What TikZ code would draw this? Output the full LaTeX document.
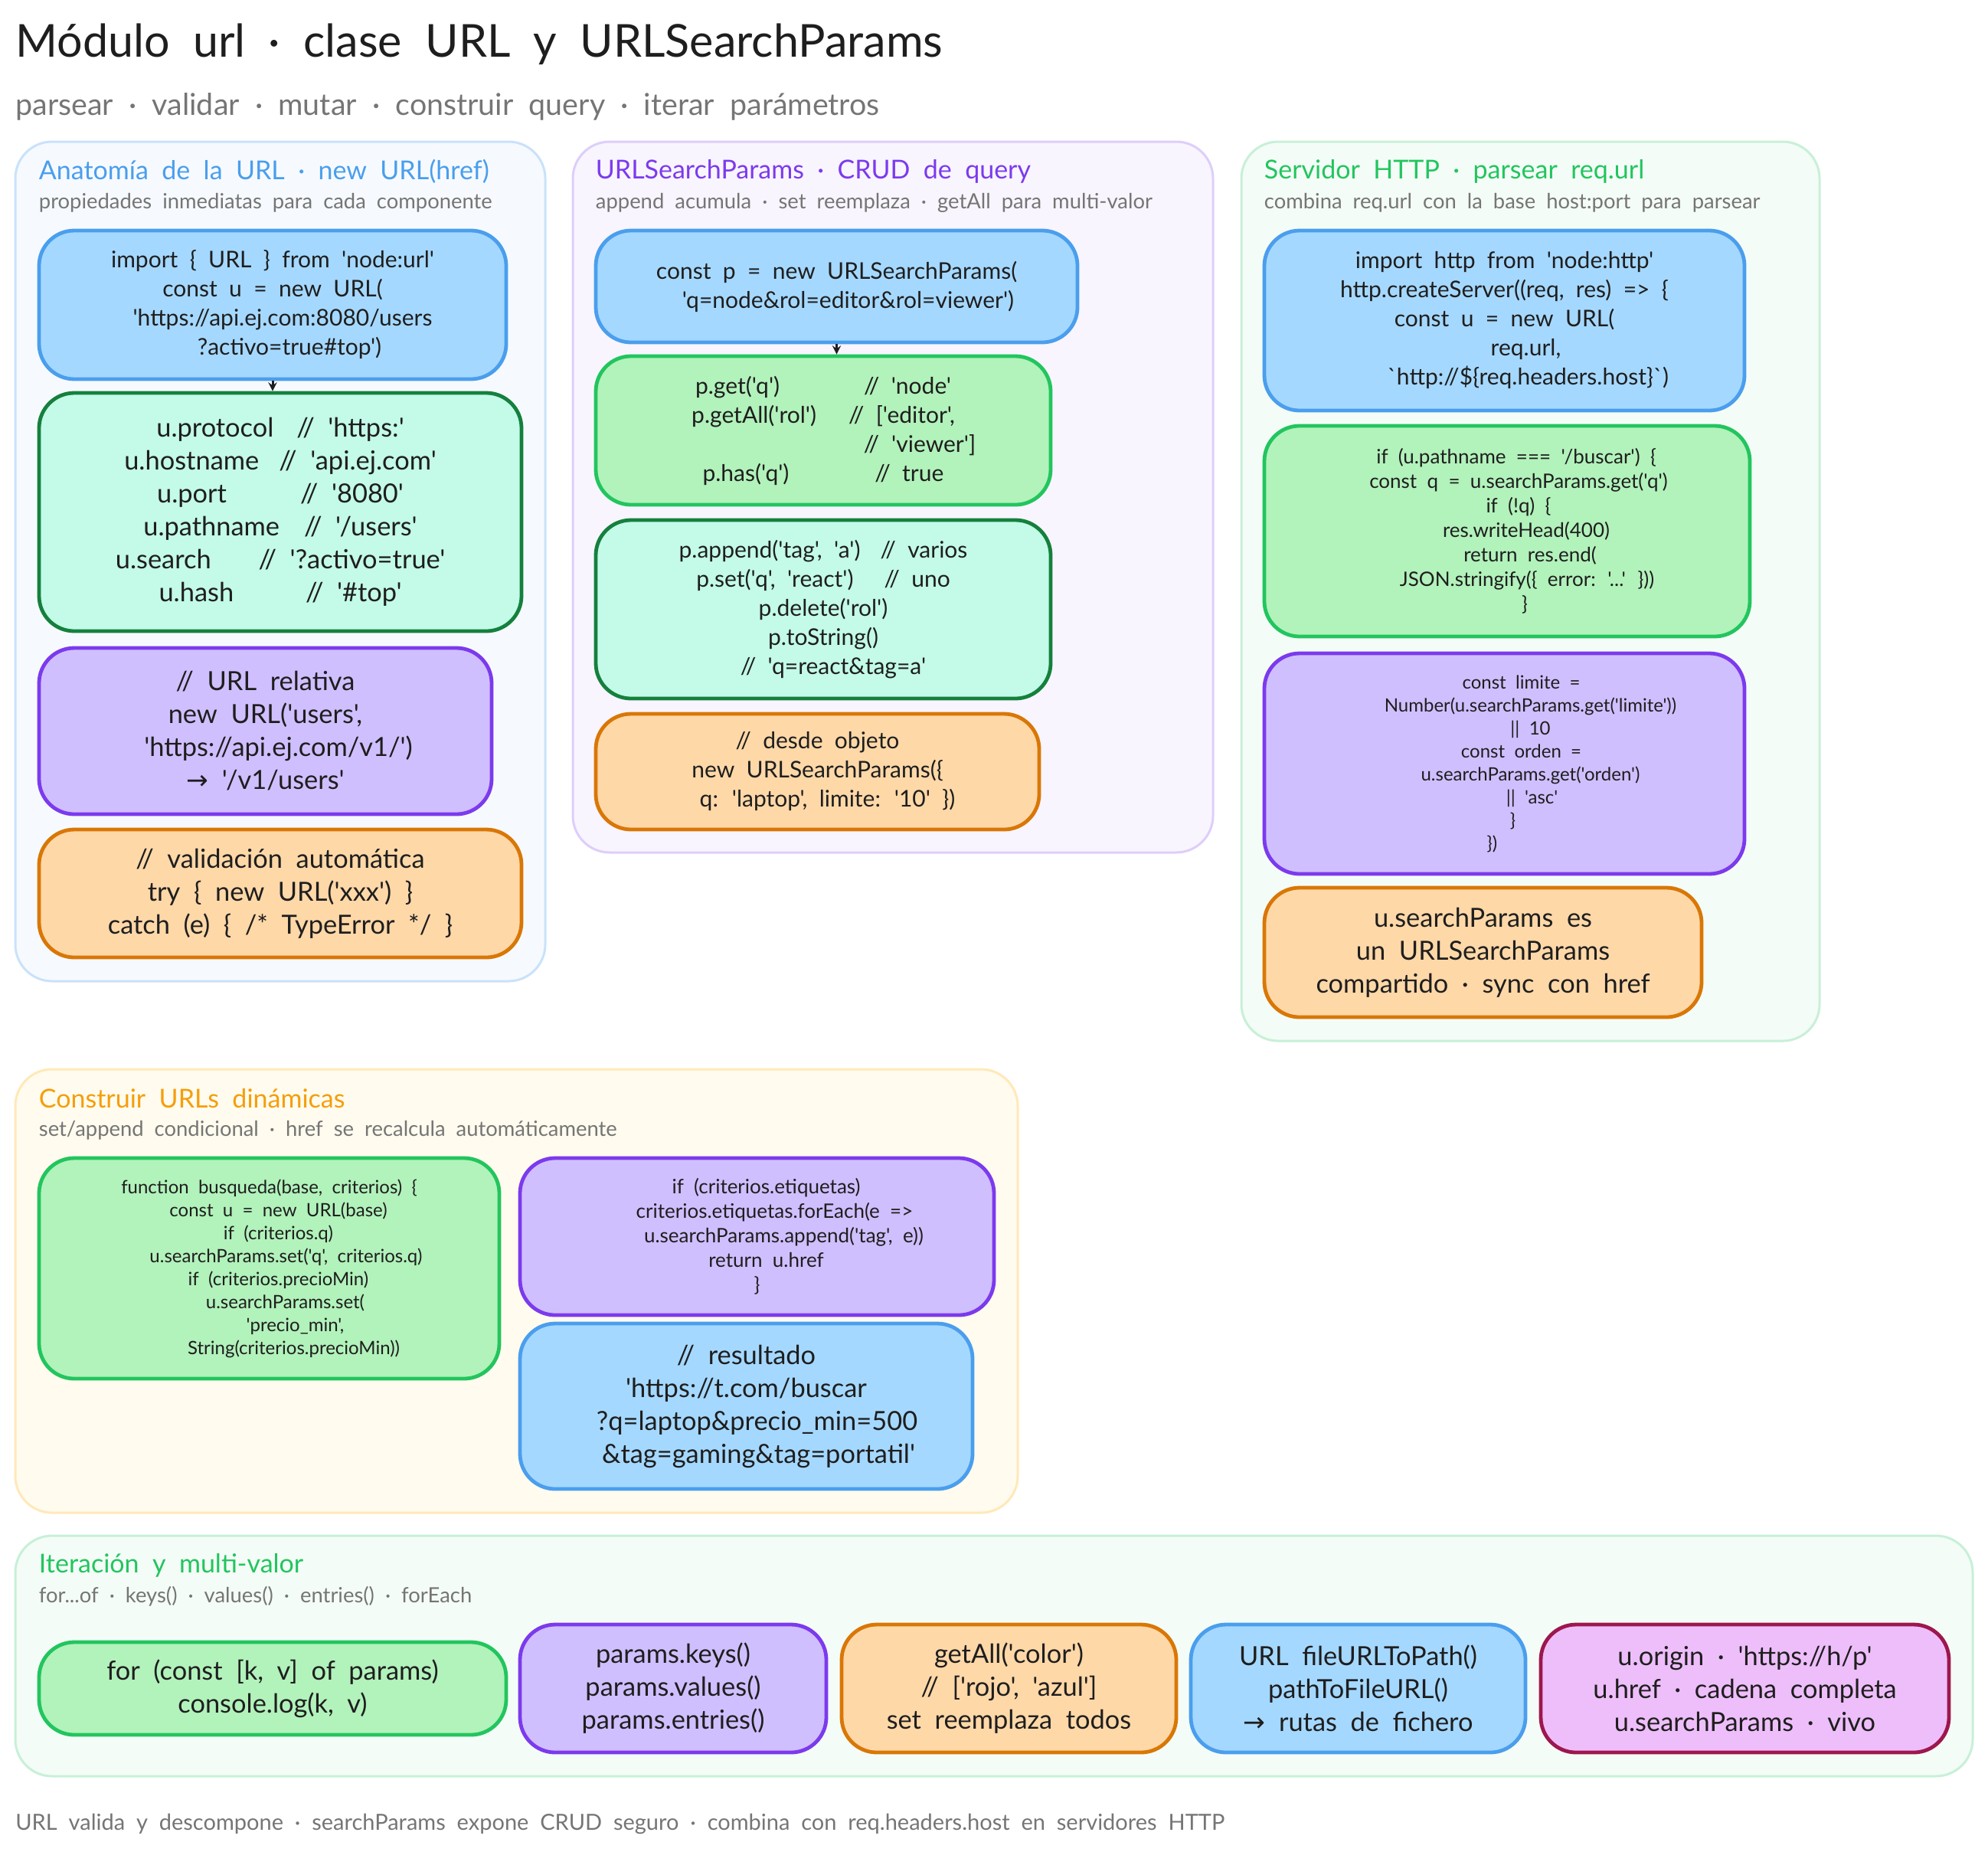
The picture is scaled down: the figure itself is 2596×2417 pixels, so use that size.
\documentclass[tikz,border=0pt]{standalone}
\usepackage{fontspec}
\usetikzlibrary{calc}
\newfontfamily\handf[WordSpace=2]{Lato}
\newfontfamily\symf{DejaVu Sans}
\newcommand{\gap}[1]{\hspace*{#1pt}}
\definecolor{inkc}{HTML}{1E1E1E}
\definecolor{subc}{HTML}{757575}
\definecolor{blued}{HTML}{4A9EED}
\definecolor{bluef}{HTML}{A5D8FF}
\definecolor{greend}{HTML}{22C55E}
\definecolor{greenf}{HTML}{B2F2BB}
\definecolor{teald}{HTML}{15803D}
\definecolor{tealf}{HTML}{C3FAE8}
\definecolor{purpled}{HTML}{7C3AED}
\definecolor{purplef}{HTML}{D0BFFF}
\definecolor{oranged}{HTML}{D97706}
\definecolor{orangef}{HTML}{FFD8A8}
\definecolor{pinkd}{HTML}{9D174D}
\definecolor{pinkf}{HTML}{EEBEFA}
\definecolor{amberc}{HTML}{F59E0B}
\definecolor{amberf}{HTML}{FFFBEE}
\definecolor{ambere}{HTML}{FFE9B8}
\tikzset{
  >=stealth,
  panel/.style={draw,rectangle,rounded corners=24pt,line width=1.5pt,inner sep=0pt},
  panelblue/.style={panel,draw=blued!30,fill=blued!5},
  panelpurple/.style={panel,draw=purpled!25,fill=purpled!5},
  panelgreen/.style={panel,draw=greend!25,fill=greend!5},
  panelamber/.style={panel,draw=ambere,fill=amberf},
  codebox/.style={draw,rectangle,rounded corners=23pt,line width=2.4pt,inner sep=0pt,align=center,text=inkc},
  bluebox/.style={codebox,draw=blued,fill=bluef},
  greenbox/.style={codebox,draw=greend,fill=greenf},
  tealbox/.style={codebox,draw=teald,fill=tealf},
  purplebox/.style={codebox,draw=purpled,fill=purplef},
  orangebox/.style={codebox,draw=oranged,fill=orangef},
  pinkbox/.style={codebox,draw=pinkd,fill=pinkf},
  fsa/.style={font=\handf\fontsize{12}{15}\selectfont},
  fsb/.style={font=\handf\fontsize{13}{16}\selectfont},
  fsc/.style={font=\handf\fontsize{15}{19}\selectfont},
  fsd/.style={font=\handf\fontsize{17.2}{21.5}\selectfont},
  titletxt/.style={anchor=west,inner sep=0pt,text=inkc,font=\handf\fontsize{29.6}{36}\selectfont},
  subtxt/.style={anchor=west,inner sep=0pt,text=subc,font=\handf\fontsize{19.7}{24}\selectfont},
  headtxt/.style={anchor=west,inner sep=0pt,font=\handf\fontsize{17}{21}\selectfont},
  notetxt/.style={anchor=west,inner sep=0pt,text=subc,font=\handf\fontsize{13.7}{17}\selectfont},
  foottxt/.style={anchor=west,inner sep=0pt,text=subc,font=\handf\fontsize{14.5}{18}\selectfont},
  linkline/.style={->,line width=1.5pt,inkc}
}
\begin{document}
\begin{tikzpicture}[x=0.5pt,y=-0.5pt]
\useasboundingbox (0,0) rectangle (2596,2417);

\draw node [titletxt] (title) at (20,58) {Módulo url · clase URL y URLSearchParams};
\draw node [subtxt] (subtitle) at (20,139) {parsear · validar · mutar · construir query · iterar parámetros};

\draw node [panelblue,minimum width=346pt,minimum height=548pt] (anatomy) at (366,733) {};
\draw node [headtxt,text=blued] (anatomyhead) at ($ (anatomy.north west)+(32,40) $) {Anatomía de la URL · new URL(href)};
\draw node [notetxt] (anatomynote) at ($ (anatomy.north west)+(32,81) $) {propiedades inmediatas para cada componente};

\draw node [bluebox,fsc,minimum width=305pt,minimum height=97pt] (urlnew) at (356,398) {import \{ URL \} from 'node:url'\\const u = new URL(\\\gap{13}'https://api.ej.com:8080/users\\\gap{22}?activo=true\#top')};
\draw node [tealbox,fsd,minimum width=315pt,minimum height=155.5pt] (urlprops) at (366,668.5) {u.protocol\gap{15}// 'https:'\\u.hostname\gap{13}// 'api.ej.com'\\u.port\gap{48}// '8080'\\u.pathname\gap{16}// '/users'\\u.search\gap{31}// '?activo=true'\\u.hash\gap{47}// '\#top'};
\draw node [purplebox,fsd,minimum width=295.5pt,minimum height=108.5pt] (urlrel) at (346.5,954.5) {// URL relativa\\new URL('users',\\\gap{17}'https://api.ej.com/v1/')\\{\symf →} '/v1/users'};
\draw node [orangebox,fsd,minimum width=315pt,minimum height=83.5pt] (urlcheck) at (366,1166.5) {// validación automática\\try \{ new URL('xxx') \}\\catch (e) \{ /* TypeError */ \}};
\draw[linkline] (urlnew.south) -- (urlnew.south |- urlprops.north);

\draw node [panelpurple,minimum width=418pt,minimum height=464pt] (crud) at (1166,649) {};
\draw node [headtxt,text=purpled] (crudhead) at ($ (crud.north west)+(31,40) $) {URLSearchParams · CRUD de query};
\draw node [notetxt] (crudnote) at ($ (crud.north west)+(31,81) $) {append acumula · set reemplaza · getAll para multi-valor};

\draw node [bluebox,fsc,minimum width=314.5pt,minimum height=73pt] (paramnew) at (1092.5,374) {const p = new URLSearchParams(\\\gap{15}'q=node\&rol=editor\&rol=viewer')};
\draw node [greenbox,fsc,minimum width=297pt,minimum height=97pt] (paramget) at (1075,562) {p.get('q')\gap{55}// 'node'\\p.getAll('rol')\gap{21}// ['editor',\\\gap{126}//\gap{8}'viewer']\\p.has('q')\gap{56}// true};
\draw node [tealbox,fsc,minimum width=297pt,minimum height=116.5pt] (paramset) at (1075,795.5) {p.append('tag', 'a')\gap{13}// varios\\p.set('q', 'react')\gap{20}// uno\\p.delete('rol')\\p.toString()\\\gap{13}// 'q=react\&tag=a'};
\draw node [orangebox,fsc,minimum width=289.5pt,minimum height=75.5pt] (paramobj) at (1067.5,1007.5) {// desde objeto\\new URLSearchParams(\{\\\gap{13}q: 'laptop', limite: '10' \})};
\draw[linkline] (paramnew.south) -- (paramnew.south |- paramget.north);

\draw node [panelgreen,minimum width=377.5pt,minimum height=587pt] (server) at (1998.5,772) {};
\draw node [headtxt,text=greend] (serverhead) at ($ (server.north west)+(31,40) $) {Servidor HTTP · parsear req.url};
\draw node [notetxt] (servernote) at ($ (server.north west)+(31,81) $) {combina req.url con la base host:port para parsear};

\draw node [bluebox,fsc,minimum width=313.5pt,minimum height=117.5pt] (srvinit) at (1964.5,418.5) {import http from 'node:http'\\http.createServer((req, res) => \{\\const u = new URL(\\\gap{28}req.url,\\\gap{31}`http://\$\{req.headers.host\}`)};
\draw node [greenbox,fsb,minimum width=317pt,minimum height=137.5pt] (srvcheck) at (1968,693.5) {\gap{12}if (u.pathname === '/buscar') \{\\\gap{15}const q = u.searchParams.get('q')\\\gap{15}if (!q) \{\\\gap{25}res.writeHead(400)\\\gap{30}return res.end(\\\gap{26}JSON.stringify(\{ error: '...' \}))\\\gap{23}\}};
\draw node [purplebox,fsa,minimum width=313.5pt,minimum height=144pt] (srvlimit) at (1964.5,997) {\gap{22}const limite =\\\gap{34}Number(u.searchParams.get('limite'))\\\gap{34}|| 10\\\gap{22}const orden =\\\gap{34}u.searchParams.get('orden')\\\gap{36}|| 'asc'\\\gap{11}\}\\\gap{-16}\})};
\draw node [orangebox,fsd,minimum width=285.5pt,minimum height=84.5pt] (srvshare) at (1936.5,1243.5) {u.searchParams es\\un URLSearchParams\\compartido · sync con href};

\draw node [panelamber,minimum width=654.5pt,minimum height=289.5pt] (build) at (674.5,1685.5) {};
\draw node [headtxt,text=amberc] (buildhead) at ($ (build.north west)+(32,40) $) {Construir URLs dinámicas};
\draw node [notetxt] (buildnote) at ($ (build.north west)+(32,81) $) {set/append condicional · href se recalcula automáticamente};

\draw node [greenbox,fsa,minimum width=300.5pt,minimum height=144pt] (buildfunc) at (351.5,1656) {function busqueda(base, criterios) \{\\\gap{12}const u = new URL(base)\\\gap{12}if (criterios.q)\\\gap{22}u.searchParams.set('q', criterios.q)\\\gap{12}if (criterios.precioMin)\\\gap{21}u.searchParams.set(\\\gap{34}'precio\_min',\\\gap{32}String(criterios.precioMin))};
\draw node [purplebox,fsb,minimum width=309.5pt,minimum height=102.5pt] (buildtags) at (988.5,1614.5) {\gap{12}if (criterios.etiquetas)\\\gap{23}criterios.etiquetas.forEach(e =>\\\gap{35}u.searchParams.append('tag', e))\\\gap{12}return u.href\\\}};
\draw node [bluebox,fsd,minimum width=295.5pt,minimum height=108pt] (buildres) at (974.5,1836) {// resultado\\'https://t.com/buscar\\\gap{14}?q=laptop\&precio\_min=500\\\gap{16}\&tag=gaming\&tag=portatil'};

\draw node [panelgreen,minimum width=1278pt,minimum height=157pt] (iter) at (1298,2162) {};
\draw node [headtxt,text=greend] (iterhead) at ($ (iter.north west)+(32,40) $) {Iteración y multi-valor};
\draw node [notetxt] (iternote) at ($ (iter.north west)+(32,81) $) {for...of · keys() · values() · entries() · forEach};

\draw node [greenbox,fsd,minimum width=305pt,minimum height=60.5pt] (iterloop) at (356,2204.5) {for (const [k, v] of params)\\console.log(k, v)};
\draw node [purplebox,fsd,minimum width=200pt,minimum height=83.5pt] (iterkeys) at (879,2204.5) {params.keys()\\params.values()\\params.entries()};
\draw node [orangebox,fsd,minimum width=218.5pt,minimum height=83.5pt] (itercolor) at (1317.5,2204.5) {getAll('color')\\// ['rojo', 'azul']\\set reemplaza todos};
\draw node [bluebox,fsd,minimum width=218.5pt,minimum height=83.5pt] (iterfile) at (1773.5,2204.5) {URL fileURLToPath()\\pathToFileURL()\\{\symf →} rutas de fichero};
\draw node [pinkbox,fsd,minimum width=266.5pt,minimum height=83.5pt] (iterorigin) at (2278.5,2204.5) {u.origin · 'https://h/p'\\u.href · cadena completa\\u.searchParams · vivo};

\draw node [foottxt] (footer) at (20,2381) {URL valida y descompone · searchParams expone CRUD seguro · combina con req.headers.host en servidores HTTP};

\end{tikzpicture}
\end{document}
